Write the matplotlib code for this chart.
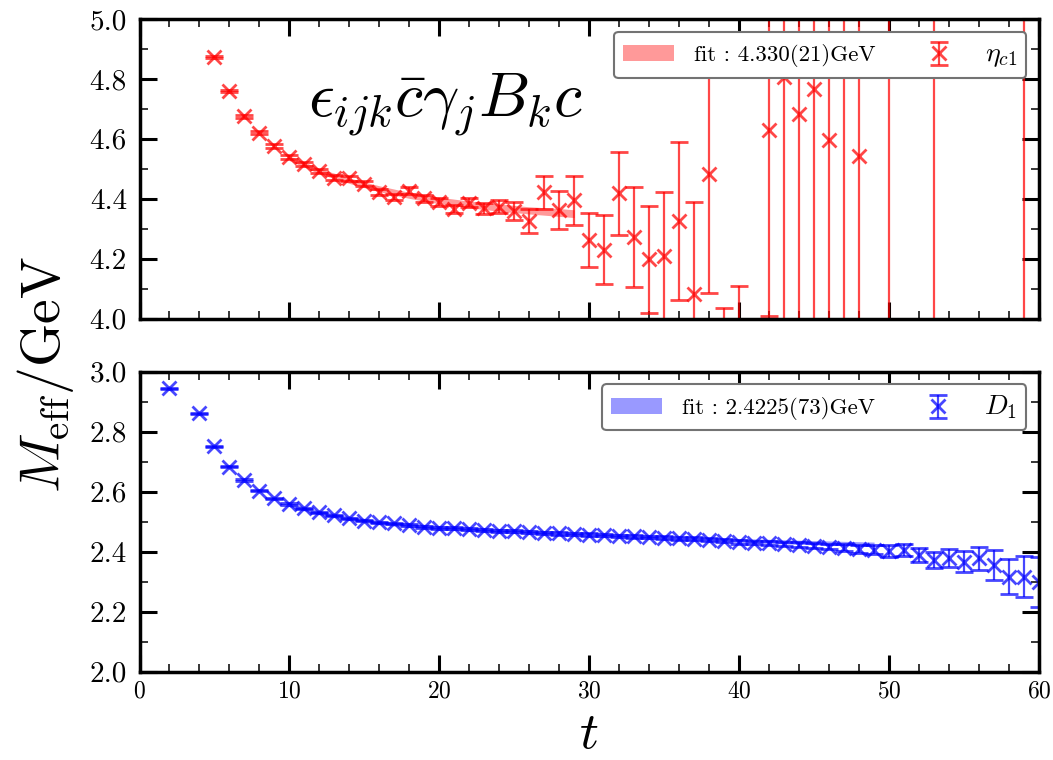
import numpy as np
import matplotlib
matplotlib.use("Agg")
import matplotlib.pyplot as plt
from matplotlib.ticker import MultipleLocator

plt.rcParams['font.family'] = ['cmr10', 'DejaVu Serif']
plt.rcParams['mathtext.fontset'] = 'cm'
plt.rcParams['axes.formatter.use_mathtext'] = True

# ---------------- top panel data (eta_c1) ----------------
t_top = [5, 6, 7, 8, 9, 10, 11, 12, 13, 14, 15, 16, 17, 18, 19, 20, 21, 22, 23, 24,
         25, 26, 27, 28, 29, 30, 31, 32, 33, 34, 35, 36, 37, 38, 39, 40,
         42, 43, 44, 45, 46, 47, 48, 50, 53, 59]
m_top = [4.874, 4.760, 4.676, 4.620, 4.576, 4.540, 4.516, 4.493, 4.470, 4.468,
         4.450, 4.423, 4.407, 4.427, 4.401, 4.389, 4.366, 4.387, 4.368, 4.373,
         4.359, 4.326, 4.421, 4.363, 4.394, 4.261, 4.229, 4.418, 4.271, 4.198,
         4.209, 4.326, 4.082, 4.482, 3.800, 3.850,
         4.629, 4.807, 4.683, 4.766, 4.596, 5.400, 4.543, 3.400, 5.800, 3.000]
e_top = [0.004, 0.004, 0.005, 0.005, 0.006, 0.006, 0.007, 0.007, 0.008, 0.008,
         0.009, 0.010, 0.010, 0.011, 0.012, 0.013, 0.014, 0.015, 0.018, 0.022,
         0.030, 0.040, 0.054, 0.064, 0.082, 0.090, 0.115, 0.139, 0.167, 0.178,
         0.215, 0.264, 0.306, 0.398, 0.234, 0.259,
         0.620, 1.200, 1.000, 1.300, 1.100, 1.600, 0.900, 2.000, 2.500, 3.000]

band_top_t = [10, 12, 14, 16, 18, 20, 22, 24, 26, 28, 29]
band_top_c = [4.535, 4.492, 4.460, 4.433, 4.411, 4.394, 4.381, 4.370, 4.361, 4.354, 4.350]
band_top_e = [0.008, 0.009, 0.009, 0.010, 0.010, 0.011, 0.011, 0.012, 0.012, 0.013, 0.013]

# ---------------- bottom panel data (D_1) ----------------
t_bot = [2, 4, 5, 6, 7, 8, 9, 10, 11, 12, 13, 14, 15, 16, 17, 18, 19, 20,
         21, 22, 23, 24, 25, 26, 27, 28, 29, 30, 31, 32, 33, 34, 35, 36, 37, 38, 39, 40,
         41, 42, 43, 44, 45, 46, 47, 48, 49, 50, 51, 52, 53, 54, 55, 56, 57, 58, 59, 60]
m_bot = [2.944, 2.861, 2.752, 2.683, 2.639, 2.603, 2.578, 2.559, 2.544, 2.531,
         2.521, 2.512, 2.503, 2.498, 2.495, 2.490, 2.483, 2.480,
         2.478, 2.475, 2.472, 2.470, 2.468, 2.465, 2.463, 2.461, 2.459, 2.457,
         2.455, 2.453, 2.451, 2.449, 2.447, 2.445, 2.443, 2.440, 2.437, 2.432,
         2.430, 2.428, 2.425, 2.423, 2.420, 2.417, 2.413, 2.408, 2.406, 2.402,
         2.406, 2.389, 2.372, 2.378, 2.367, 2.378, 2.356, 2.317, 2.317, 2.300]
e_bot = [0.002, 0.002, 0.002, 0.002, 0.002, 0.002, 0.002, 0.002, 0.002, 0.002,
         0.002, 0.002, 0.002, 0.002, 0.002, 0.003, 0.003, 0.003,
         0.003, 0.003, 0.003, 0.003, 0.003, 0.003, 0.004, 0.004, 0.004, 0.004,
         0.004, 0.004, 0.004, 0.005, 0.005, 0.005, 0.005, 0.005, 0.005, 0.006,
         0.006, 0.007, 0.007, 0.008, 0.008, 0.009, 0.011, 0.013, 0.015, 0.019,
         0.020, 0.022, 0.026, 0.030, 0.036, 0.038, 0.049, 0.057, 0.068, 0.083]

band_bot_t = [10, 12, 14, 16, 18, 20, 25, 30, 35, 40, 45, 49]
band_bot_c = [2.556, 2.530, 2.511, 2.497, 2.488, 2.480, 2.468, 2.457, 2.447, 2.437, 2.430, 2.425]
band_bot_e = [0.007] * len(band_bot_t)

label_fit_top = 'fit : 4.330(21)GeV'
label_fit_bot = 'fit : 2.4225(73)GeV'
label_top = r'$\eta_{c1}$'
label_bot = r'$D_1$'
operator_text = r'$\epsilon_{ijk}\bar{c}\gamma_j B_k c$'

W, H = 1053, 760
fig = plt.figure(figsize=(W / 100, H / 100), dpi=100)

def px_axes(l, t, r, b):
    return fig.add_axes([l / W, 1 - b / H, (r - l) / W, (b - t) / H])

ax1 = px_axes(139.5, 19, 1039, 318.5)
ax2 = px_axes(139.5, 371.7, 1039, 671.7)

def draw(ax, t, m, e, bt, bc, be, color, fitlabel, datalabel):
    bc = np.array(bc); be = np.array(be)
    band = ax.fill_between(bt, bc - be, bc + be, color=color, alpha=0.4,
                           linewidth=0, label=fitlabel)
    eb = ax.errorbar(t, m, yerr=e, fmt='x', color=color, alpha=0.72,
                     markersize=10, markeredgewidth=2.0, elinewidth=1.6,
                     capsize=6.5, capthick=1.6, label=datalabel)
    leg = ax.legend(handles=[band, eb], loc='upper right', ncol=2, fontsize=16.5,
                    handlelength=2.2, handletextpad=0.9, columnspacing=1.65,
                    borderaxespad=0.55, borderpad=0.4, fancybox=True,
                    framealpha=1.0, edgecolor='0.45')
    leg.get_texts()[1].set_fontsize(20)
    leg.get_frame().set_linewidth(1.5)

draw(ax1, t_top, m_top, e_top, band_top_t, band_top_c, band_top_e, 'red',
     label_fit_top, label_top)
draw(ax2, t_bot, m_bot, e_bot, band_bot_t, band_bot_c, band_bot_e, 'blue',
     label_fit_bot, label_bot)

ax1.set_ylim(4.0, 5.0)
ax2.set_ylim(2.0, 3.0)
for ax in (ax1, ax2):
    ax.set_xlim(0, 60)
    ax.xaxis.set_major_locator(MultipleLocator(10))
    ax.xaxis.set_minor_locator(MultipleLocator(2))
    ax.yaxis.set_major_locator(MultipleLocator(0.2))
    ax.yaxis.set_minor_locator(MultipleLocator(0.1))
    ax.yaxis.set_major_formatter(matplotlib.ticker.FormatStrFormatter('%.1f'))
    ax.tick_params(which='both', direction='in', top=True, right=True)
    ax.tick_params(which='major', length=12.5, width=2.2)
    ax.tick_params(which='minor', length=6, width=1.1)
    ax.tick_params(axis='y', which='major', labelsize=21, pad=9)
    ax.tick_params(axis='x', which='major', labelsize=17, pad=6)
    for s in ax.spines.values():
        s.set_linewidth(2.5)

ax1.tick_params(axis='x', labelbottom=False)

ax1.text(0.34, 0.713, operator_text, transform=ax1.transAxes, fontsize=46,
         ha='center', va='center')

fig.text(45 / W, 1 - 375 / H, r'$M_{\rm eff}/{\rm GeV}$', rotation=90,
         fontsize=40, ha='center', va='center')
fig.text(589 / W, 1 - 735 / H, r'$t$', fontsize=38, ha='center', va='center')

fig.savefig('out.png', dpi=100)
